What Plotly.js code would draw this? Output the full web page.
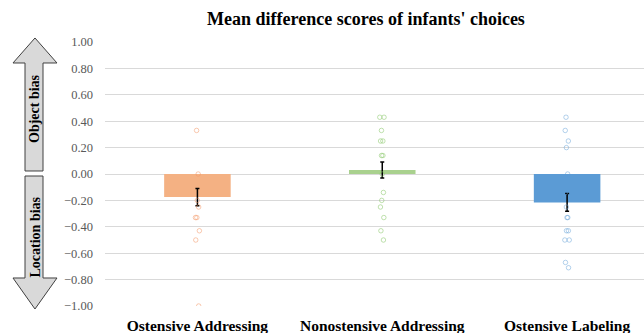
<!DOCTYPE html>
<html>
<head>
<meta charset="utf-8">
<script src="https://cdn.plot.ly/plotly-3.0.1.min.js"></script>
<style>html,body{margin:0;padding:0;background:#fff}#chart{width:644px;height:333px}</style>
</head>
<body>
<div id="chart"></div>
<script>
// ---- data ----
const categories = ["Ostensive Addressing", "Nonostensive Addressing", "Ostensive Labeling"];
const meanScores = [-0.175, 0.03, -0.215];
const stdErrors = [0.065, 0.06, 0.067];
const barColors = ["#f4b183", "#a9d18e", "#5b9bd5"];
const pointsOstensiveAddressing = [0.33, 0, -0.2, -0.25, -0.33, -0.33, -0.43, -0.5, -1.0];
const pointsNonostensiveAddressing = [0.43, 0.43, 0.33, 0.25, 0.25, 0.14, 0.14, 0, -0.14, -0.2, -0.25, -0.33, -0.43, -0.5];
const pointsOstensiveLabeling = [0.43, 0.33, 0.25, 0.2, 0, -0.14, -0.25, -0.33, -0.33, -0.43, -0.43, -0.5, -0.5, -0.67, -0.71];
const yTicks = [1, 0.8, 0.6, 0.4, 0.2, 0, -0.2, -0.4, -0.6, -0.8, -1];

const W = 644, H = 333, ML = 105, MR = 0, MT = 42, MB = 27;
const PW = W - ML - MR, PH = H - MT - MB;
const px = x => (x - ML) / PW;
const py = y => (H - MB - y) / PH;
function pathFrom(pts) {
  return 'M' + pts.map(p => px(p[0]).toFixed(4) + ',' + py(p[1]).toFixed(4)).join(' L') + ' Z';
}

const serif = "Liberation Serif, Times New Roman, serif";

const traces = [{
  type: 'bar',
  x: categories,
  y: meanScores,
  marker: {color: barColors, line: {width: 0}},
  width: 0.36,
  error_y: {type: 'data', array: stdErrors, visible: true, color: '#000', thickness: 1.5, width: 2},
  hoverinfo: 'skip',
  showlegend: false
}];

const pointSets = [pointsOstensiveAddressing, pointsNonostensiveAddressing, pointsOstensiveLabeling];
const pointColors = ["rgba(244,150,100,0.5)", "rgba(140,200,110,0.55)", "rgba(91,155,213,0.45)"];
pointSets.forEach((pts, i) => {
  traces.push({
    type: 'box',
    x: pts.map(() => categories[i]),
    y: pts,
    boxpoints: 'all',
    jitter: 0.1,
    pointpos: 0,
    width: 0.3,
    fillcolor: 'rgba(0,0,0,0)',
    line: {width: 0, color: 'rgba(0,0,0,0)'},
    whiskerwidth: 0,
    marker: {symbol: 'circle-open', size: 4.5, color: pointColors[i], line: {width: 1, color: pointColors[i]}},
    hoverinfo: 'skip',
    showlegend: false
  });
});

const upperArrow = [[35,38],[57,63],[43,63],[43,171],[25,171],[25,63],[13,63]];
const lowerArrow = [[25,176],[43,176],[43,278],[57,278],[35,309],[13,278],[25,278]];

const layout = {
  width: W, height: H,
  margin: {l: ML, r: MR, t: MT, b: MB, pad: 0},
  paper_bgcolor: '#fff', plot_bgcolor: '#fff',
  title: {text: "<b>Mean difference scores of infants' choices</b>", x: 366/W, xanchor: 'center', y: 1 - 19/H, yanchor: 'middle',
          font: {family: serif, size: 18, color: '#000'}},
  showlegend: false,
  xaxis: {
    type: 'category', range: [-0.5, 2.416], showgrid: false, zeroline: false, showline: false,
    ticks: '', tickfont: {family: serif, size: 15.5, color: '#000'}, ticklabelstandoff: 8,
    tickvals: categories, ticktext: categories.map(c => '<b>' + c + '</b>'), fixedrange: true
  },
  yaxis: {
    range: [-1, 1], tickvals: yTicks, tickformat: '.2f', showgrid: true, gridcolor: '#d9d9d9', gridwidth: 1,
    zeroline: true, zerolinecolor: '#d9d9d9', zerolinewidth: 1, showline: false, ticks: '',
    tickfont: {family: serif, size: 12.5, color: '#595959'}, ticklabelstandoff: 11, fixedrange: true
  },
  shapes: [
    {type: 'path', xref: 'paper', yref: 'paper', path: pathFrom(upperArrow), fillcolor: '#d9d9d9', line: {color: '#404040', width: 1}},
    {type: 'path', xref: 'paper', yref: 'paper', path: pathFrom(lowerArrow), fillcolor: '#d9d9d9', line: {color: '#404040', width: 1}}
  ],
  annotations: [
    {text: '<b>Object bias</b>', xref: 'paper', yref: 'paper', x: px(34.5), y: py(108.5), textangle: -90, showarrow: false,
     font: {family: serif, size: 14, color: '#000'}, xanchor: 'center', yanchor: 'middle'},
    {text: '<b>Location bias</b>', xref: 'paper', yref: 'paper', x: px(34.5), y: py(237), textangle: -90, showarrow: false,
     font: {family: serif, size: 14, color: '#000'}, xanchor: 'center', yanchor: 'middle'}
  ]
};

Plotly.newPlot('chart', traces, layout, {displayModeBar: false, staticPlot: true});
</script>
</body>
</html>
